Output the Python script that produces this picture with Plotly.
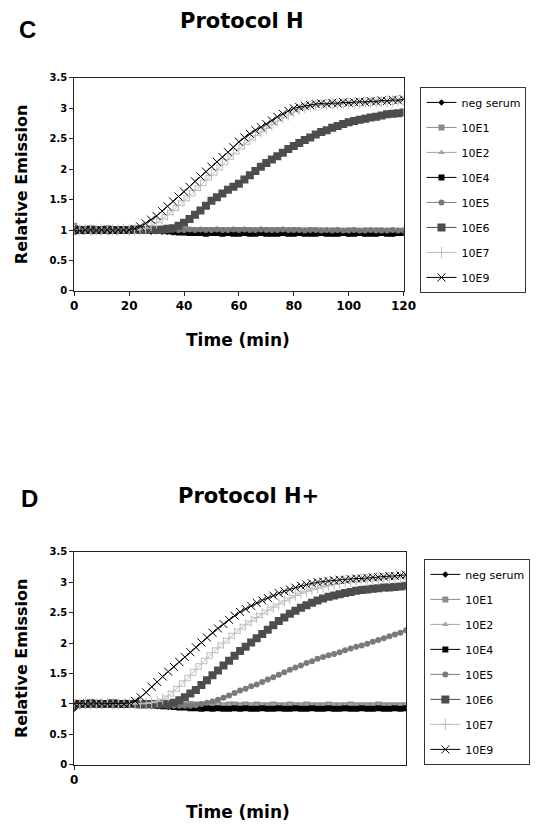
import plotly.graph_objects as go

# Sampling times (min), every 2 min from 0 to 120
time_min = list(range(0, 121, 2))

series_names = ["neg serum", "10E1", "10E2", "10E4", "10E5", "10E6", "10E7", "10E9"]

# ---------------- Panel C : Protocol H ----------------
c_neg = [0.97,0.98,0.98,0.99,0.98,0.99,0.99,0.98,0.99,0.99,
         0.98,0.99,0.98,0.98,0.97,0.98,0.97,0.97,0.96,0.97,
         0.96,0.96,0.97,0.96,0.96,0.97,0.96,0.96,0.95,0.96,
         0.96,0.95,0.96,0.96,0.95,0.95,0.96,0.95,0.96,0.95,
         0.95,0.96,0.95,0.95,0.96,0.95,0.95,0.94,0.95,0.95,
         0.94,0.95,0.95,0.94,0.95,0.94,0.95,0.95,0.94,0.95,
         0.95]
c_e1 = [1.07,1.02,1.01,1.00,1.01,1.00,1.00,1.01,1.00,1.00,
        1.01,1.00,1.00,1.01,1.00,1.00,1.00,0.99,1.00,1.00,
        0.99,1.00,1.00,0.99,1.00,1.00,0.99,1.00,0.99,1.00,
        1.00,0.99,1.00,0.99,0.99,1.00,0.99,1.00,0.99,0.99,
        1.00,0.99,0.99,1.00,0.99,0.99,0.98,0.99,0.99,0.98,
        0.99,0.99,0.98,0.99,0.98,0.99,0.99,0.98,0.99,0.98,
        0.99]
c_e2 = [1.00,1.01,1.00,1.00,1.01,1.00,1.01,1.00,1.00,1.01,
        1.00,1.00,1.01,1.00,1.00,1.01,1.00,1.00,1.00,1.01,
        1.00,1.00,1.01,1.00,1.00,1.00,1.01,1.00,1.00,1.00,
        1.01,1.00,1.00,1.00,1.00,1.01,1.00,1.00,1.00,1.00,
        1.00,1.01,1.00,1.00,1.00,0.99,1.00,1.00,1.00,0.99,
        1.00,1.00,0.99,1.00,1.00,0.99,1.00,1.00,0.99,1.00,
        1.00]
c_e4 = [0.98,0.99,0.99,1.00,0.99,1.00,0.99,0.99,1.00,0.99,
        0.99,1.00,0.99,0.99,1.00,0.99,0.99,0.98,0.97,0.96,
        0.96,0.95,0.95,0.95,0.94,0.95,0.95,0.94,0.95,0.94,
        0.94,0.95,0.94,0.94,0.95,0.94,0.94,0.94,0.95,0.94,
        0.94,0.95,0.94,0.94,0.94,0.95,0.94,0.94,0.94,0.95,
        0.94,0.94,0.95,0.94,0.94,0.94,0.95,0.94,0.94,0.95,
        0.95]
c_e5 = [0.99,1.00,1.00,0.99,1.00,1.00,1.00,0.99,1.00,1.00,
        1.00,1.00,0.99,1.00,1.00,1.01,1.00,1.00,1.01,1.00,
        1.00,1.01,1.00,1.01,1.00,1.00,1.01,1.00,1.00,1.01,
        1.00,1.01,1.00,1.00,1.01,1.00,1.00,1.00,1.01,1.00,
        1.00,1.00,0.99,1.00,1.00,0.99,1.00,0.99,1.00,0.99,
        0.99,1.00,0.99,0.99,1.00,0.99,0.99,0.99,1.00,0.99,
        0.99]
c_e6 = [1.01,1.00,1.00,1.01,1.00,1.00,1.01,1.00,1.00,1.00,
        1.00,1.01,1.00,1.00,1.01,1.00,1.01,1.02,1.03,1.07,
        1.12,1.18,1.25,1.32,1.40,1.48,1.54,1.60,1.66,1.71,
        1.76,1.83,1.90,1.97,2.04,2.10,2.16,2.21,2.27,2.33,
        2.38,2.43,2.48,2.52,2.57,2.61,2.64,2.68,2.71,2.74,
        2.77,2.79,2.81,2.83,2.85,2.86,2.88,2.90,2.91,2.92,
        2.93]
c_e7 = [1.00,1.00,1.01,1.00,1.00,1.01,1.00,1.00,1.00,1.01,
        1.00,1.00,1.01,1.03,1.07,1.12,1.18,1.25,1.32,1.40,
        1.48,1.56,1.65,1.73,1.82,1.90,1.99,2.07,2.16,2.25,
        2.33,2.41,2.48,2.55,2.61,2.67,2.73,2.79,2.84,2.89,
        2.94,2.98,3.01,3.03,3.05,3.06,3.06,3.07,3.07,3.08,
        3.08,3.09,3.09,3.10,3.10,3.10,3.11,3.11,3.12,3.12,
        3.13]
c_e9 = [1.00,0.99,1.00,1.00,0.99,1.00,1.00,0.99,1.00,1.00,
        1.00,1.02,1.06,1.11,1.17,1.23,1.31,1.39,1.47,1.55,
        1.63,1.71,1.80,1.88,1.96,2.04,2.12,2.20,2.28,2.36,
        2.45,2.52,2.58,2.64,2.69,2.74,2.80,2.86,2.91,2.96,
        3.00,3.02,3.04,3.05,3.07,3.08,3.07,3.09,3.08,3.10,
        3.09,3.10,3.11,3.10,3.12,3.11,3.13,3.12,3.14,3.13,
        3.15]

# ---------------- Panel D : Protocol H+ ----------------
d_neg = [0.92,0.97,0.98,0.98,0.99,0.98,0.99,0.98,0.98,0.99,
         0.98,0.98,0.97,0.97,0.97,0.96,0.96,0.95,0.95,0.95,
         0.95,0.94,0.95,0.94,0.94,0.95,0.94,0.94,0.94,0.93,
         0.94,0.94,0.93,0.94,0.94,0.93,0.94,0.93,0.94,0.94,
         0.93,0.94,0.93,0.94,0.93,0.94,0.94,0.93,0.94,0.93,
         0.94,0.93,0.94,0.93,0.93,0.94,0.93,0.94,0.93,0.94,
         0.93]
d_e1 = [1.00,1.00,1.01,1.00,1.00,1.00,0.99,1.00,1.00,1.00,
        0.99,1.00,1.00,0.99,1.00,0.99,0.99,1.00,0.99,0.99,
        0.99,1.00,0.99,0.99,0.98,0.99,0.99,0.98,0.99,0.99,
        0.98,0.99,0.98,0.99,0.98,0.98,0.99,0.98,0.98,0.99,
        0.98,0.98,0.99,0.98,0.98,0.98,0.99,0.98,0.98,0.98,
        0.99,0.98,0.98,0.98,0.98,0.99,0.98,0.98,0.98,0.98,
        0.98]
d_e2 = [1.01,1.00,1.00,1.01,1.00,1.00,1.01,1.00,1.00,1.00,
        1.01,1.00,1.00,1.00,0.99,1.00,0.99,0.99,1.00,0.99,
        0.99,0.99,0.98,0.99,0.98,0.98,0.99,0.98,0.98,0.98,
        0.97,0.98,0.98,0.97,0.98,0.97,0.98,0.97,0.97,0.98,
        0.97,0.97,0.98,0.97,0.97,0.97,0.98,0.97,0.97,0.97,
        0.98,0.97,0.97,0.97,0.97,0.98,0.97,0.97,0.97,0.97,
        0.97]
d_e4 = [0.99,1.00,0.99,1.00,1.00,0.99,1.00,1.00,0.99,1.00,
        0.99,0.99,0.99,0.98,0.98,0.97,0.96,0.96,0.95,0.94,
        0.94,0.93,0.93,0.92,0.93,0.92,0.93,0.92,0.92,0.93,
        0.92,0.93,0.92,0.92,0.93,0.92,0.92,0.93,0.92,0.92,
        0.93,0.92,0.92,0.93,0.92,0.92,0.93,0.92,0.92,0.93,
        0.92,0.92,0.93,0.92,0.92,0.93,0.92,0.92,0.93,0.92,
        0.93]
d_e5 = [1.00,1.00,1.01,1.00,1.00,1.00,1.01,1.00,1.00,1.00,
        1.00,0.99,1.00,0.99,0.99,0.98,0.98,0.97,0.97,0.97,
        0.97,0.97,0.98,1.00,1.02,1.04,1.07,1.10,1.14,1.18,
        1.22,1.25,1.29,1.32,1.36,1.40,1.44,1.48,1.52,1.56,
        1.60,1.63,1.67,1.70,1.74,1.77,1.80,1.82,1.85,1.88,
        1.91,1.94,1.96,1.99,2.02,2.05,2.08,2.11,2.14,2.17,
        2.21]
d_e6 = [0.99,1.00,1.00,1.01,1.00,1.00,1.00,1.01,1.00,1.00,
        1.00,1.00,0.99,1.00,1.00,0.99,1.00,1.00,1.02,1.06,
        1.11,1.17,1.23,1.31,1.39,1.47,1.55,1.63,1.71,1.79,
        1.87,1.94,2.01,2.08,2.15,2.22,2.29,2.36,2.42,2.48,
        2.53,2.58,2.62,2.66,2.70,2.73,2.76,2.78,2.80,2.82,
        2.84,2.86,2.87,2.88,2.89,2.90,2.91,2.91,2.92,2.93,
        2.94]
d_e7 = [1.00,1.00,1.01,1.00,1.00,1.00,1.01,1.00,1.00,1.00,
        1.00,1.00,1.00,1.01,1.02,1.04,1.08,1.13,1.21,1.29,
        1.38,1.47,1.57,1.66,1.75,1.84,1.92,2.00,2.08,2.16,
        2.23,2.30,2.36,2.42,2.48,2.54,2.59,2.64,2.69,2.74,
        2.78,2.82,2.85,2.88,2.90,2.92,2.94,2.96,2.98,3.00,
        3.01,3.02,3.03,3.04,3.05,3.05,3.06,3.07,3.07,3.08,
        3.08]
d_e9 = [1.00,1.01,1.00,1.00,1.01,1.00,1.00,1.01,1.00,1.00,
        1.01,1.05,1.11,1.19,1.28,1.36,1.45,1.53,1.61,1.69,
        1.77,1.85,1.93,2.01,2.09,2.17,2.24,2.31,2.38,2.45,
        2.51,2.56,2.61,2.66,2.70,2.74,2.78,2.82,2.85,2.88,
        2.91,2.94,2.96,2.98,3.00,3.01,3.02,3.03,3.04,3.04,
        3.05,3.06,3.06,3.07,3.08,3.08,3.09,3.10,3.10,3.11,
        3.12]

panel_c = [c_neg, c_e1, c_e2, c_e4, c_e5, c_e6, c_e7, c_e9]
panel_d = [d_neg, d_e1, d_e2, d_e4, d_e5, d_e6, d_e7, d_e9]
for s in panel_c + panel_d:
    assert len(s) == len(time_min), len(s)

y_ticks = [0, 0.5, 1, 1.5, 2, 2.5, 3, 3.5]
y_tick_text = ["0", "0.5", "1", "1.5", "2", "2.5", "3", "3.5"]
x_ticks_c = [0, 20, 40, 60, 80, 100, 120]
x_ticks_d = [0]

styles = [
    dict(color="#000000", symbol="diamond", size=5, lw=1.0),
    dict(color="#8c8c8c", symbol="square", size=6, lw=1.0),
    dict(color="#a6a6a6", symbol="triangle-up", size=6, lw=1.0),
    dict(color="#000000", symbol="square", size=6, lw=1.0),
    dict(color="#7a7a7a", symbol="circle", size=6, lw=1.0),
    dict(color="#4d4d4d", symbol="square", size=8, lw=1.0),
    dict(color="#bdbdbd", symbol="cross-thin", size=8, lw=1.0),
    dict(color="#000000", symbol="x-thin", size=8, lw=1.0),
]

fig = go.Figure()

def add_panel(data, xa, ya, legend):
    for name, vals, st in zip(series_names, data, styles):
        thin = st["symbol"].endswith("-thin")
        marker = dict(symbol=st["symbol"], size=st["size"], color=st["color"],
                      line=dict(width=1 if thin else 0, color=st["color"]))
        fig.add_trace(go.Scatter(
            x=time_min, y=vals, name=name, mode="lines+markers",
            line=dict(color=st["color"], width=st["lw"]),
            marker=marker, xaxis=xa, yaxis=ya, legend=legend,
            legendgroup=legend + name, showlegend=True,
        ))

add_panel(panel_c, "x", "y", "legend")
add_panel(panel_d, "x2", "y2", "legend2")

# The page body adds an 8 px margin on every side; size the figure so the
# whole page fits the 547x834 window exactly.
OFF = 8
W, H = 547 - 2 * OFF, 834 - 2 * OFF
def px_x(p):
    return (p - OFF) / W
def px_y(p):
    return 1 - (p - OFF) / H

tickfont_y = dict(family="DejaVu Sans", size=10, color="black", weight="bold")
tickfont_x = dict(family="DejaVu Sans", size=12, color="black", weight="bold")

axis_common = dict(showgrid=False, zeroline=False, showline=True, linecolor="#222",
                   linewidth=1, mirror=True, ticks="outside", ticklen=4,
                   tickcolor="#222")

legend_common = dict(xanchor="left", yanchor="top", bordercolor="#333", borderwidth=1,
                     bgcolor="white",
                     font=dict(family="DejaVu Sans", size=11, color="black"),
                     tracegroupgap=6, itemwidth=30)

fig.update_layout(
    width=W, height=H, autosize=False,
    margin=dict(l=0, r=0, t=0, b=0),
    paper_bgcolor="white", plot_bgcolor="white",
    xaxis=dict(domain=[px_x(72.3), px_x(412.5)], range=[0, 120], anchor="y",
               tickvals=x_ticks_c, tickfont=tickfont_x, **axis_common),
    yaxis=dict(domain=[px_y(289), px_y(72.8)], range=[0, 3.5], anchor="x",
               tickvals=y_ticks, ticktext=y_tick_text, tickfont=tickfont_y,
               **axis_common),
    xaxis2=dict(domain=[px_x(72.3), px_x(415)], range=[0, 120], anchor="y2",
                tickvals=x_ticks_d, tickfont=tickfont_x, **axis_common),
    yaxis2=dict(domain=[px_y(770), px_y(553.7)], range=[0, 3.5], anchor="x2",
                tickvals=y_ticks, ticktext=y_tick_text, tickfont=tickfont_y,
                **axis_common),
    legend=dict(x=px_x(430), y=px_y(82), **legend_common),
    legend2=dict(x=px_x(434), y=px_y(561), **legend_common),
    showlegend=True,
)

title_font = dict(family="DejaVu Sans", size=21, color="black", weight="bold")
letter_font = dict(family="Liberation Sans", size=24, color="black", weight="bold")
axis_title_font = dict(family="DejaVu Sans", size=16, color="black", weight="bold")
xtitle_font = dict(family="DejaVu Sans", size=17, color="black", weight="bold")

annotations = [
    dict(text="C", x=px_x(13), y=px_y(24), font=letter_font, xanchor="left"),
    dict(text="Protocol H", x=px_x(246), y=px_y(15), font=title_font),
    dict(text="Time (min)", x=px_x(241), y=px_y(339), font=xtitle_font),
    dict(text="Relative Emission", x=px_x(18), y=px_y(181), font=axis_title_font,
         textangle=-90),
    dict(text="D", x=px_x(15), y=px_y(500), font=letter_font, xanchor="left"),
    dict(text="Protocol H+", x=px_x(252), y=px_y(497), font=title_font),
    dict(text="Time (min)", x=px_x(241), y=px_y(818), font=xtitle_font),
    dict(text="Relative Emission", x=px_x(18), y=px_y(662), font=axis_title_font,
         textangle=-90),
]
for a in annotations:
    a.update(xref="paper", yref="paper", showarrow=False, yanchor="middle")
    a.setdefault("xanchor", "center")
fig.update_layout(annotations=annotations)

fig.write_html("out.html")
